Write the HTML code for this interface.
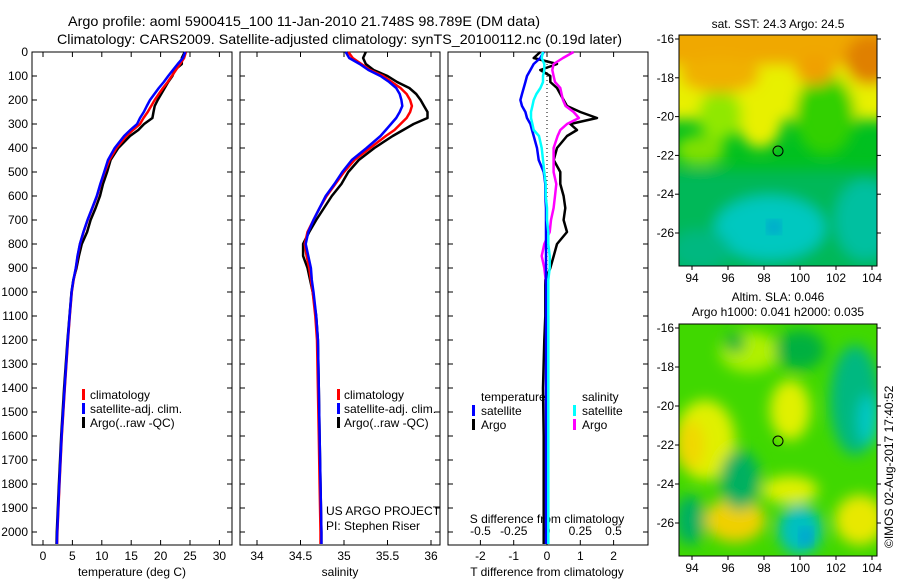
<!DOCTYPE html>
<html><head><meta charset="utf-8"><style>
html,body{margin:0;padding:0;background:#fff;}
svg{display:block;font-family:"Liberation Sans",sans-serif;}
</style></head><body>
<svg id="chart" width="900" height="580" viewBox="0 0 900 580" xmlns="http://www.w3.org/2000/svg">
<defs>
<filter id="blur" x="-20%" y="-20%" width="140%" height="140%"><feGaussianBlur stdDeviation="7"/></filter>
<clipPath id="clipMap1"><rect x="679" y="35" width="198" height="231"/></clipPath>
<clipPath id="clipMap2"><rect x="679" y="324" width="198" height="232"/></clipPath>
</defs>
<text x="68" y="26" font-size="14" textLength="472" lengthAdjust="spacingAndGlyphs">Argo profile: aoml 5900415_100 11-Jan-2010 21.748S 98.789E (DM data)</text>
<text x="57" y="44" font-size="14" textLength="565" lengthAdjust="spacingAndGlyphs">Climatology: CARS2009. Satellite-adjusted climatology: synTS_20100112.nc (0.19d later)</text>
<g id="panels"></g>
<g id="maps">
 <g clip-path="url(#clipMap1)">
  <rect x="679" y="35" width="198" height="231" fill="#00c020"/>
  <g filter="url(#blur)">
   <rect x="660" y="170" width="240" height="110" fill="#00b858"/>
   <ellipse cx="770" cy="228" rx="55" ry="32" fill="#00c8c0"/>
   <ellipse cx="700" cy="250" rx="30" ry="20" fill="#00b880"/>
   <ellipse cx="865" cy="220" rx="30" ry="40" fill="#00c0a0"/>
   <rect x="660" y="20" width="240" height="100" fill="#e8f000"/>
   <ellipse cx="760" cy="120" rx="22" ry="28" fill="#e8f000"/>
   <ellipse cx="720" cy="115" rx="22" ry="25" fill="#90e800"/>
   <ellipse cx="825" cy="115" rx="30" ry="40" fill="#30d000"/>
   <ellipse cx="700" cy="150" rx="25" ry="15" fill="#80e000"/>
   <rect x="660" y="20" width="240" height="45" fill="#f0a800"/>
   <ellipse cx="720" cy="75" rx="40" ry="18" fill="#f0b000"/>
   <ellipse cx="870" cy="60" rx="25" ry="25" fill="#e08000"/>
   <ellipse cx="815" cy="70" rx="20" ry="15" fill="#f0a000"/>
  </g>
  <ellipse cx="774" cy="227" rx="6" ry="6" fill="#0080e0" filter="url(#blur)"/>
 </g>
 <rect x="679" y="35" width="198" height="231" fill="none" stroke="#000"/>
 <circle cx="778" cy="151" r="5" fill="none" stroke="#000"/>
 <g clip-path="url(#clipMap2)">
  <rect x="679" y="324" width="198" height="232" fill="#40d800"/>
  <g filter="url(#blur)">
   <ellipse cx="705" cy="440" rx="30" ry="40" fill="#e0f000"/>
   <ellipse cx="690" cy="445" rx="15" ry="25" fill="#f0d800"/>
   <ellipse cx="790" cy="410" rx="20" ry="30" fill="#e0f000"/>
   <ellipse cx="790" cy="490" rx="28" ry="14" fill="#e0f000"/>
   <ellipse cx="735" cy="520" rx="30" ry="22" fill="#f0d000"/>
   <ellipse cx="750" cy="352" rx="30" ry="20" fill="#b0f000"/>
   <ellipse cx="740" cy="480" rx="20" ry="30" fill="#00b060"/>
   <ellipse cx="690" cy="520" rx="15" ry="25" fill="#00b060"/>
   <ellipse cx="855" cy="400" rx="25" ry="55" fill="#00b880"/>
   <ellipse cx="868" cy="420" rx="10" ry="25" fill="#00c8c8"/>
   <ellipse cx="800" cy="530" rx="22" ry="25" fill="#00c0c0"/>
   <ellipse cx="860" cy="520" rx="25" ry="25" fill="#e8e800"/>
   <ellipse cx="735" cy="343" rx="10" ry="10" fill="#00b040"/>
   <ellipse cx="800" cy="350" rx="25" ry="20" fill="#00b040"/>
  </g>
  <ellipse cx="806" cy="537" rx="6" ry="8" fill="#0090e0" filter="url(#blur)"/>
 </g>
 <rect x="679" y="324" width="198" height="232" fill="none" stroke="#000"/>
 <circle cx="778" cy="441" r="5" fill="none" stroke="#000"/>
 <text x="778" y="28" font-size="12" text-anchor="middle">sat. SST: 24.3 Argo: 24.5</text>
 <text x="778" y="301" font-size="12" text-anchor="middle">Altim. SLA: 0.046</text>
 <text x="778" y="316" font-size="12" text-anchor="middle">Argo h1000: 0.041 h2000: 0.035</text>
 <text transform="translate(893,548) rotate(-90)" font-size="12">©IMOS 02-Aug-2017 17:40:52</text>
</g>
<g id="legends">
 <rect x="82" y="389" width="3" height="11" fill="#f00"/><text x="90" y="399" font-size="12">climatology</text>
 <rect x="82" y="403" width="3" height="11" fill="#00f"/><text x="90" y="413" font-size="12">satellite-adj. clim.</text>
 <rect x="82" y="417" width="3" height="11" fill="#000"/><text x="90" y="427" font-size="12">Argo(..raw -QC)</text>
 <rect x="337" y="389" width="3" height="11" fill="#f00"/><text x="344" y="399" font-size="12">climatology</text>
 <rect x="337" y="403" width="3" height="11" fill="#00f"/><text x="344" y="413" font-size="12">satellite-adj. clim.</text>
 <rect x="337" y="417" width="3" height="11" fill="#000"/><text x="344" y="427" font-size="12">Argo(..raw -QC)</text>
 <text x="326" y="515" font-size="12">US ARGO PROJECT</text>
 <text x="326" y="530" font-size="12">PI: Stephen Riser</text>
 <text x="481" y="401" font-size="12">temperature</text>
 <rect x="472" y="405" width="3" height="11" fill="#00f"/><text x="481" y="415" font-size="12">satellite</text>
 <rect x="472" y="419" width="3" height="11" fill="#000"/><text x="481" y="429" font-size="12">Argo</text>
 <text x="582" y="401" font-size="12">salinity</text>
 <rect x="573" y="405" width="3" height="11" fill="#0ff"/><text x="582" y="415" font-size="12">satellite</text>
 <rect x="573" y="419" width="3" height="11" fill="#f0f"/><text x="582" y="429" font-size="12">Argo</text>
</g>
<script>
const depths=[0,25,50,75,100,125,150,175,200,225,250,275,300,325,350,400,450,500,550,600,650,700,750,800,850,900,950,1000,1100,1200,1400,1600,1800,2000,2050];
const climT=[24.3,24,23.3,22.6,21.9,21.2,20.4,19.7,19.0,18.4,17.8,17.1,16.5,15.3,14.2,12.5,11.3,10.5,9.8,9.2,8.4,7.6,6.9,6.3,5.9,5.6,5.2,4.9,4.55,4.25,3.7,3.2,2.8,2.45,2.4];
const climS=[35.05,35.1,35.2,35.3,35.45,35.55,35.65,35.72,35.76,35.78,35.76,35.72,35.65,35.58,35.48,35.3,35.12,35.0,34.9,34.8,34.72,34.65,34.58,34.55,34.57,34.6,34.62,34.64,34.67,34.69,34.7,34.71,34.72,34.73,34.73];
const tSatDiff=[-0.1,-0.2,-0.4,-0.5,-0.6,-0.65,-0.7,-0.75,-0.8,-0.75,-0.65,-0.6,-0.5,-0.45,-0.4,-0.3,-0.25,-0.1,-0.05,-0.05,-0.03,-0.03,-0.03,-0.03,-0.03,-0.03,-0.03,-0.03,-0.03,-0.03,-0.03,-0.03,-0.03,-0.03,-0.03];
const tArgoDiff=[-0.2,-0.4,0.3,-0.2,0.1,0.1,0.3,0.4,0.5,0.6,1.0,1.5,0.7,0.9,0.6,0.3,0.2,0.4,0.4,0.5,0.55,0.5,0.6,0.3,0.2,0.1,-0.05,-0.05,-0.05,-0.08,-0.12,-0.1,-0.1,-0.1,-0.1];
const sSatDiff=[-0.03,-0.04,-0.02,-0.02,-0.03,-0.03,-0.05,-0.08,-0.1,-0.11,-0.12,-0.12,-0.11,-0.1,-0.06,-0.04,-0.03,-0.02,-0.01,-0.01,0,0,0.01,0.01,0.02,0.02,0.01,0.01,0.01,0.01,0.01,0.01,0.01,0.01,0.01];
const sArgoDiff=[0.2,0.12,0.05,0.04,0.05,0.06,0.1,0.11,0.12,0.14,0.2,0.24,0.15,0.1,0.08,0.05,0.05,0.05,0.07,0.06,0.05,0.03,0.02,-0.02,-0.04,-0.02,-0.01,0,0.01,0.01,0.01,0.01,0.01,0.01,0.01];
const depthTicks=[0,100,200,300,400,500,600,700,800,900,1000,1100,1200,1300,1400,1500,1600,1700,1800,1900,2000];
const tTicks=[0,5,10,15,20,25,30];
const sTicks=[34,34.5,35,35.5,36];
const tdTicks=[-2,-1,0,1,2];
const sdTicks=[-0.5,-0.25,0,0.25,0.5];
const sdTickLabels=["-0.5","-0.25","0","0.25","0.5"];
const lonTicks=[94,96,98,100,102,104];
const latTicks=[-16,-18,-20,-22,-24,-26];

const NS="http://www.w3.org/2000/svg";
const root=document.getElementById('panels');
function yD(d){return 52+d*0.24;}
function xT(t){return 43+t*5.88;}
function xS(s){return 257+(s-34)*87;}
function xTD(t){return 547+t*33.3;}
function xSD(s){return 547+s*133;}
function mk(tag,attrs,parent){const e=document.createElementNS(NS,tag);for(const k in attrs)e.setAttribute(k,attrs[k]);(parent||root).appendChild(e);return e;}
function line(xf,vals,color,name){
  const pts=depths.map((d,i)=>xf(vals[i]).toFixed(1)+','+yD(d).toFixed(1)).join(' ');
  const p=mk('polyline',{points:pts,fill:'none',stroke:color,'stroke-width':2.5,'stroke-linejoin':'round'});
  
  
}
const panels=[{x:32,name:'temperature-panel'},{x:240,name:'salinity-panel'},{x:448,name:'difference-panel'}];
panels.forEach(p=>{
  const r=mk('rect',{x:p.x,y:52,width:200,height:493,fill:'none',stroke:'#000','stroke-width':1});
  
  
  depthTicks.forEach(d=>{
    mk('line',{x1:p.x,x2:p.x+5,y1:yD(d),y2:yD(d),stroke:'#000'});
    mk('line',{x1:p.x+200,x2:p.x+195,y1:yD(d),y2:yD(d),stroke:'#000'});
  });
});
depthTicks.forEach(d=>{
  const t=mk('text',{x:28,y:yD(d)+4,'font-size':12,'text-anchor':'end'});t.textContent=d;
  
  
});
function xticks(vals,labels,xf,name){
  vals.forEach((v,i)=>{
    const x=xf(v);
    mk('line',{x1:x,x2:x,y1:545,y2:540,stroke:'#000'});
    mk('line',{x1:x,x2:x,y1:52,y2:57,stroke:'#000'});
    const t=mk('text',{x:x,y:560,'font-size':12,'text-anchor':'middle'});t.textContent=labels[i];
    
    
  });
}
xticks(tTicks,tTicks.map(String),xT,'temperature-tick-label');
xticks(sTicks,sTicks.map(String),xS,'salinity-tick-label');
xticks(tdTicks,tdTicks.map(String),xTD,'t-diff-tick-label');
sdTicks.forEach((v,i)=>{
  const t=mk('text',{x:xSD(v),y:535,'font-size':12,'text-anchor':'middle'});t.textContent=sdTickLabels[i];
  
  
});
[['temperature (deg C)',132,'temperature-axis-title'],['salinity',340,'salinity-axis-title'],['T difference from climatology',547,'t-diff-axis-title']].forEach(a=>{
  const t=mk('text',{x:a[1],y:576,'font-size':12,'text-anchor':'middle'});t.textContent=a[0];
  
  
});
const st=mk('text',{x:547,y:523,'font-size':12,'text-anchor':'middle'});st.textContent='S difference from climatology';


mk('line',{x1:547,x2:547,y1:52,y2:545,stroke:'#000','stroke-dasharray':'1,3'});

const satT=climT.map((v,i)=>v+tSatDiff[i]);
const argoT=climT.map((v,i)=>v+tArgoDiff[i]);
const satS=climS.map((v,i)=>v+sSatDiff[i]);
const argoS=climS.map((v,i)=>v+sArgoDiff[i]);
line(xT,argoT,'#000','argo-temperature-line');
line(xT,climT,'#f00','climatology-temperature-line');
line(xT,satT,'#00f','satellite-temperature-line');
line(xS,argoS,'#000','argo-salinity-line');
line(xS,climS,'#f00','climatology-salinity-line');
line(xS,satS,'#00f','satellite-salinity-line');
line(xTD,tArgoDiff,'#000','argo-t-diff-line');
line(xSD,sArgoDiff,'#f0f','argo-s-diff-line');
line(xTD,tSatDiff,'#00f','satellite-t-diff-line');
line(xSD,sSatDiff,'#0ff','satellite-s-diff-line');

const mroot=document.getElementById('maps');
[[39,19.4,266],[328,19.5,556]].forEach(m=>{
  lonTicks.forEach(lo=>{
    const x=692+(lo-94)*18;
    mk('line',{x1:x,x2:x,y1:m[2],y2:m[2]+4,stroke:'#000'},mroot);
    const t=mk('text',{x:x,y:m[2]+16,'font-size':12,'text-anchor':'middle'},mroot);t.textContent=lo;
    
    
  });
  latTicks.forEach(la=>{
    const y=m[0]+(-16-la)*m[1];
    mk('line',{x1:675,x2:679,y1:y,y2:y,stroke:'#000'},mroot);
    mk('line',{x1:877,x2:881,y1:y,y2:y,stroke:'#000'},mroot);
    const t=mk('text',{x:674,y:y+4,'font-size':12,'text-anchor':'end'},mroot);t.textContent=la;
    
    
  });
});
</script>
</svg>
</body></html>
